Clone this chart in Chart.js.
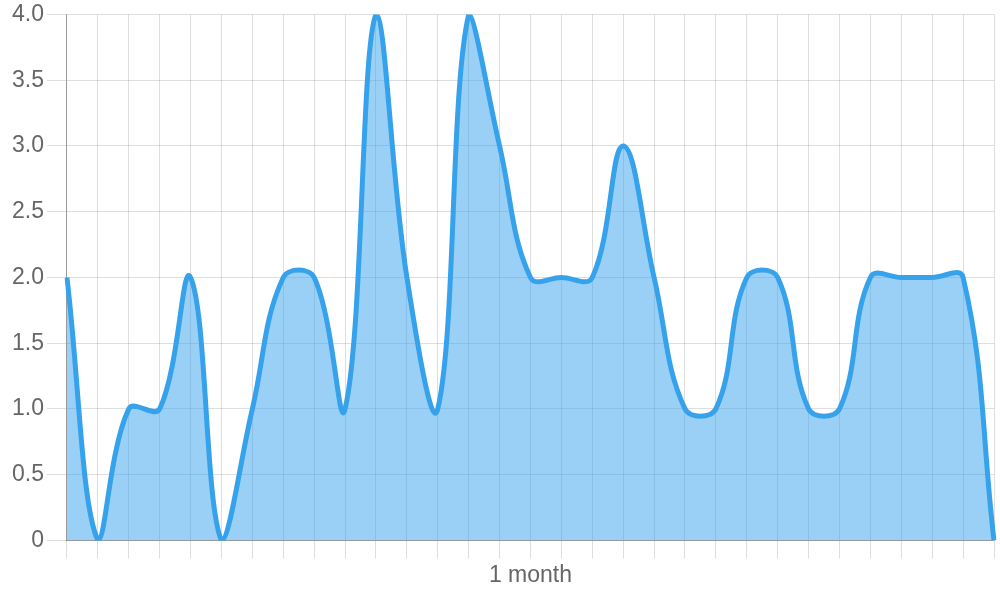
<!DOCTYPE html>
<html>

<head>
    <title>Monthly chart</title>
    <script src="https://cdn.jsdelivr.net/npm/chart.js"></script>
    <style>
        body { margin: 0; }
        #wrap { width: 1000px; height: 600px; }
    </style>
</head>

<body>
    <div id="wrap"><canvas id="chart"></canvas></div>

    <script>
        // One label per day, only the middle one is shown
        const days = ['', '', '', '', '', '', '', '', '', '', '', '', '', '', '', '1 month',
            '', '', '', '', '', '', '', '', '', '', '', '', '', '', ''];

        // Daily values
        const values = [2, 0, 1, 1, 2, 0, 1, 2, 2, 1, 4, 2, 1, 4, 3, 2,
            2, 2, 3, 2, 1, 1, 2, 2, 1, 1, 2, 2, 2, 2, 0];

        const yTicks = ['0', '0.5', '1.0', '1.5', '2.0', '2.5', '3.0', '3.5', '4.0'];

        Chart.defaults.font.family = '"Liberation Sans", Arial, sans-serif';
        Chart.defaults.font.size = 23;
        Chart.defaults.color = '#666';

        const ctx = document.getElementById('chart').getContext('2d');
        const chart = new Chart(ctx, {
            type: 'line',
            data: {
                labels: days,
                datasets: [{
                    data: values,
                    borderColor: 'rgb(54, 162, 235)',
                    backgroundColor: 'rgba(54, 162, 235, 0.5)',
                    borderWidth: 5,
                    fill: 'origin',
                    tension: 0.4,
                    pointRadius: 0
                }]
            },
            options: {
                responsive: true,
                maintainAspectRatio: false,
                animation: false,
                layout: {
                    padding: { left: 9, right: 6, top: 0, bottom: 8 }
                },
                plugins: {
                    legend: { display: false },
                    tooltip: { enabled: false }
                },
                scales: {
                    x: {
                        grid: { tickLength: 18, color: 'rgba(0, 0, 0, 0.13)' },
                        border: { color: 'rgba(0, 0, 0, 0.3)' },
                        ticks: { autoSkip: false, maxRotation: 0 }
                    },
                    y: {
                        min: 0,
                        max: 4,
                        grid: { tickLength: 20, color: 'rgba(0, 0, 0, 0.13)' },
                        border: { color: 'rgba(0, 0, 0, 0.3)' },
                        ticks: {
                            stepSize: 0.5,
                            font: { lineHeight: 1.0 },
                            callback: (v, i) => yTicks[i]
                        }
                    }
                }
            }
        });
    </script>
</body>

</html>
